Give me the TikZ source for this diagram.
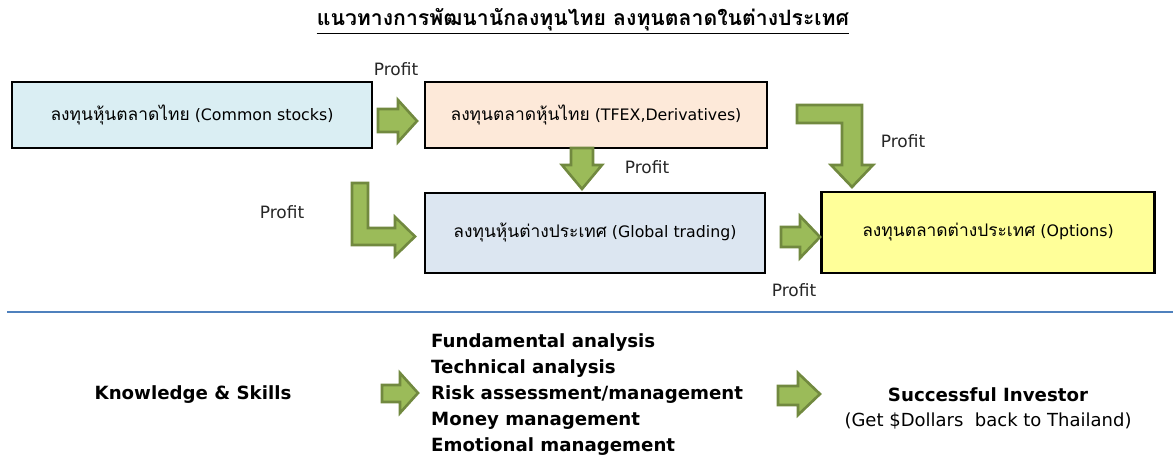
\documentclass[tikz,border=0pt]{standalone}
\usepackage{fontspec}
\setmainfont{DejaVu Sans}
\newfontfamily\thaifont[Script=Thai,Scale=1.1]{Loma}
\newfontfamily\titlefont[Script=Thai]{Loma}
\definecolor{boxA}{HTML}{DAEEF3}
\definecolor{boxB}{HTML}{FDE9D9}
\definecolor{boxC}{HTML}{DCE6F1}
\definecolor{boxD}{HTML}{FFFF99}
\definecolor{arrfill}{HTML}{9BBB59}
\definecolor{arrline}{HTML}{71893F}
\definecolor{sepline}{HTML}{4F81BD}
\begin{document}
\begin{tikzpicture}[x=1pt,y=-1pt,
  stagebox/.style={draw=black,line width=2.4pt,inner sep=0pt,font=\fontsize{15.8}{19}\selectfont},
  blockarr/.style={fill=arrfill,draw=arrline,line width=2.6pt,line join=miter},
  profit/.style={font=\fontsize{17}{20}\selectfont,text=black!85},
  boldtxt/.style={font=\bfseries\fontsize{18.2}{22}\selectfont},
  listtxt/.style={font=\bfseries\fontsize{18.2}{22}\selectfont,anchor=west,inner sep=0pt}]
\useasboundingbox (0,0) rectangle (1173,459);
% title
\node[font=\bfseries\fontsize{21.2}{25}\selectfont,inner sep=0pt] (title) at (583,20) {\titlefont แนวทางการพัฒนานักลงทุนไทย ลงทุนตลาดในต่างประเทศ};
\draw[line width=1.4pt] ([yshift=-2pt]title.south west) -- ([yshift=-2pt]title.south east);
% boxes
\node[stagebox,fill=boxA,minimum width=360pt,minimum height=66pt] (b1) at (192,115) {{\thaifont ลงทุนหุ้นตลาดไทย} (Common stocks)};
\node[stagebox,fill=boxB,minimum width=342pt,minimum height=66pt] (b2) at (596,115) {{\thaifont ลงทุนตลาดหุ้นไทย} (TFEX,Derivatives)};
\node[stagebox,fill=boxC,minimum width=340pt,minimum height=80pt] (b3) at (595,233) {{\thaifont ลงทุนหุ้นต่างประเทศ} (Global trading)};
\node[stagebox,fill=boxD,minimum width=333pt,minimum height=81pt] (b4) at (988,232.5) {{\thaifont ลงทุนตลาดต่างประเทศ} (Options)};
% arrows
\draw[blockarr] (378,109)--(398,109)--(398,100)--(417,121)--(398,142)--(398,132)--(378,132)--cycle;
\draw[blockarr] (571,148)--(593,148)--(593,165)--(602,165)--(582,189)--(562,165)--(571,165)--cycle;
\draw[blockarr] (352,183)--(368,183)--(368,228)--(395,228)--(395,217)--(415,236.5)--(395,256)--(395,245)--(352,245)--cycle;
\draw[blockarr] (797,105)--(862,105)--(862,165)--(873,165)--(852,187)--(831,165)--(842,165)--(842,123)--(797,123)--cycle;
\draw[blockarr] (781,227)--(800,227)--(800,216)--(820,237)--(800,258)--(800,247)--(781,247)--cycle;
% profit labels
\node[profit] (p1) at (396,69) {Profit};
\node[profit] (p2) at (647,167) {Profit};
\node[profit] (p3) at (282,212) {Profit};
\node[profit] (p4) at (794,290) {Profit};
\node[profit] (p5) at (903,141) {Profit};
% separator
\draw[sepline,line width=1.4pt] (7,312) -- (1173,312);
% bottom
\node[boldtxt] (ks) at (193,395) {Knowledge \& Skills};
\draw[blockarr] (382,385)--(400,385)--(400,373)--(418,393)--(400,413)--(400,402)--(382,402)--cycle;
\node[listtxt] (l1) at (431,343) {Fundamental analysis};
\node[listtxt] (l2) at (431,369) {Technical analysis};
\node[listtxt] (l3) at (431,395) {Risk assessment/management};
\node[listtxt] (l4) at (431,421) {Money management};
\node[listtxt] (l5) at (431,447) {Emotional management};
\draw[blockarr] (778,386)--(798,386)--(798,373)--(820,394)--(798,415)--(798,405)--(778,405)--cycle;
\node[boldtxt] (si) at (988,395) {Successful Investor};
\node[font=\fontsize{18}{21}\selectfont] (gd) at (988,421) {(Get \$Dollars\ \ back to Thailand)};
\end{tikzpicture}
\end{document}
